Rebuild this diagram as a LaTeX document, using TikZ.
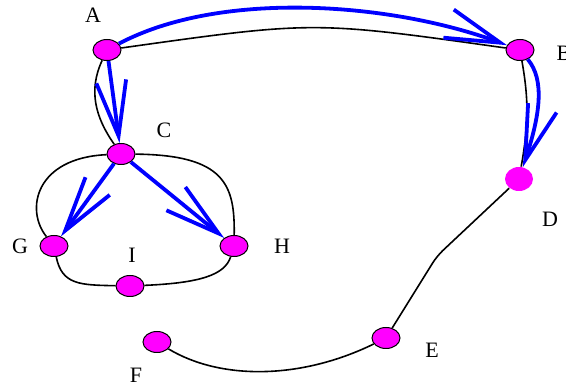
\documentclass[tikz,border=0pt]{standalone}
\usepackage{fontspec}
\setmainfont{Liberation Serif}
\usepackage{tikz}
\usetikzlibrary{shapes.geometric, arrows.meta}
\definecolor{nodepink}{RGB}{255,0,255}
\definecolor{arrowblue}{RGB}{0,0,255}

\begin{document}
\begin{tikzpicture}[
    x=1pt, y=-1pt,
    vertex/.style={ellipse, draw, line width=1pt, fill=nodepink,
                   minimum width=28pt, minimum height=21pt, inner sep=0pt},
    vlabel/.style={inner sep=0pt, font=\fontsize{22}{26}\selectfont},
    link/.style={line width=1.6pt},
    bluearrow/.style={line width=3.8pt, arrowblue,
                      -{Straight Barb[length=55pt, width=30pt, sharp]}}
]
\useasboundingbox (0,0) rectangle (566,387);

\node[vertex] (A) at (107,50)  {};
\node[vertex] (B) at (520,50)  {};
\node[vertex] (C) at (121,154) {};
\node[vertex, draw=none, minimum height=24pt] (D) at (519,179) {};
\node[vertex] (G) at (54,246)  {};
\node[vertex] (H) at (234,246) {};
\node[vertex] (I) at (130,286) {};
\node[vertex] (E) at (386,338) {};
\node[vertex] (F) at (157,342) {};

\node[vlabel] (labA) at (93,15)   {A};
\node[vlabel] (labB) at (564,53)  {B};
\node[vlabel] (labC) at (164,130) {C};
\node[vlabel] (labD) at (550,219) {D};
\node[vlabel] (labG) at (20,246)  {G};
\node[vlabel] (labH) at (282,246) {H};
\node[vlabel] (labI) at (132,255) {I};
\node[vlabel] (labE) at (432,350) {E};
\node[vlabel] (labF) at (136,375) {F};

\coordinate (kinkDE) at (437,256);

\draw[link] (A) to[out=8, in=172, looseness=1.3] (B);
\draw[link] (A) to[out=245, in=125] (C);
\draw[link] (B) to[out=-80, in=80] (D);
\draw[link] (C) .. controls (35,158) and (25,210) .. (G);
\draw[link] (C) .. controls (225,155) and (235,185) .. (H);
\draw[link] (G) .. controls (62,285) and (80,285) .. (I);
\draw[link] (I) .. controls (200,283) and (225,275) .. (H);
\draw[link, rounded corners=8pt] (D) -- (kinkDE) -- (E);
\draw[link] (F) .. controls (220,380) and (300,380) .. (E);

\draw[bluearrow] (A) .. controls (220,-10) and (390,2) .. (B);
\draw[bluearrow] (A) -- (C);
\draw[bluearrow] (B) .. controls (545,80) and (540,115) .. (D);
\draw[bluearrow] (C) -- (G);
\draw[bluearrow] (C) -- (H);
\end{tikzpicture}
\end{document}
